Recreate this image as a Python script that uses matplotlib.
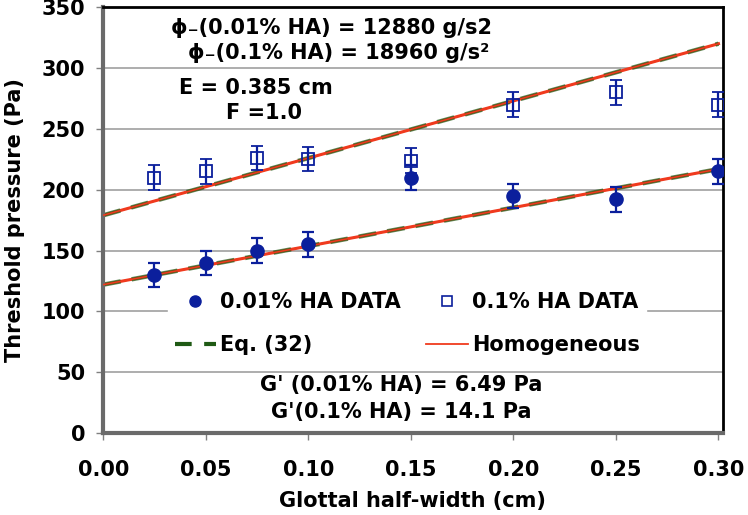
import numpy as np
import matplotlib.pyplot as plt
from matplotlib.lines import Line2D

# measured threshold pressures
half_width = [0.025, 0.05, 0.075, 0.10, 0.15, 0.20, 0.25, 0.30]
p_001 = [130, 140, 150, 155, 210, 195, 192, 215]
p_01 = [210, 215, 226, 225, 224, 270, 280, 270]
err_001 = [10, 10, 10, 10, 10, 10, 10, 10]
err_01 = [10, 10, 10, 10, 10, 10, 10, 10]

# model lines (end points at x = 0 and x = 0.30)
line_x = [0.0, 0.30]
model_001 = [122, 217]
model_01 = [179, 320]

navy = "#0b1f9c"
green = "#1f5a14"
red = "#f03a1e"

plt.rcParams['font.family'] = ['DejaVu Sans']
plt.rcParams['font.weight'] = 'bold'

fig = plt.figure(figsize=(7.48, 5.15), dpi=100)
ax = fig.add_axes([0.138, 0.159, 0.828, 0.827])

ax.yaxis.grid(True, color="#a0a0a0", lw=1.2, zorder=0)
ax.set_axisbelow(True)

for model in (model_01, model_001):
    ax.plot(line_x, model, color=red, lw=2.2, zorder=2)
    ax.plot(line_x, model, color=green, ls=(0, (4, 2.5)), lw=3.2, alpha=0.7, zorder=2)
    ax.plot(line_x, model, color=red, lw=1.1, zorder=3)

ax.errorbar(half_width, p_001, yerr=err_001, fmt="o", color=navy, ms=9.5,
            elinewidth=1.6, capsize=4, capthick=1.6, zorder=4)
ax.errorbar(half_width, p_01, yerr=err_01, fmt="s", color=navy, mfc="none", ms=8.5,
            mew=1.3, elinewidth=1.6, capsize=4, capthick=1.6, zorder=4)

ax.set_xlim(0, 0.302)
ax.set_ylim(0, 350)
ax.set_xticks(np.arange(0, 0.301, 0.05))
ax.set_xticklabels(["%.2f" % v for v in np.arange(0, 0.301, 0.05)])
ax.set_yticks(np.arange(0, 351, 50))
ax.tick_params(labelsize=15, labelcolor="black", color="#808080", length=5, width=1,
               direction="out")
ax.tick_params(axis="x", pad=14)
ax.tick_params(axis="y", pad=8)
for lab in ax.get_xticklabels() + ax.get_yticklabels():
    lab.set_fontweight("bold")

ax.spines["left"].set_color("#6a6a6a")
ax.spines["left"].set_linewidth(3)
ax.spines["bottom"].set_color("#6a6a6a")
ax.spines["bottom"].set_linewidth(3)
ax.spines["top"].set_color("black")
ax.spines["top"].set_linewidth(2)
ax.spines["right"].set_color("black")
ax.spines["right"].set_linewidth(2)

ax.set_xlabel("Glottal half-width (cm)", fontsize=15, fontweight="bold", labelpad=8)
ax.set_ylabel("Threshold pressure (Pa)", fontsize=15, fontweight="bold", labelpad=12)

handles = [
    Line2D([], [], ls="none", marker="o", color=navy, ms=8),
    Line2D([], [], color=green, ls=(0, (4, 3)), lw=3),
    Line2D([], [], ls="none", marker="s", color=navy, mfc="none", ms=7, mew=1.2),
    Line2D([], [], color=red, lw=1.3),
]
leg = ax.legend(handles, ["0.01% HA DATA", "Eq. (32)", "0.1% HA DATA", "Homogeneous"],
                ncol=2, loc="upper left", bbox_to_anchor=(0.105, 0.345),
                frameon=True, fancybox=False, edgecolor="white", framealpha=1,
                prop={"size": 15, "weight": "bold"}, handlelength=2.0,
                handletextpad=0.2, columnspacing=1.2, labelspacing=1.1,
                borderaxespad=0, borderpad=0.3)
leg.set_zorder(5)

txt = dict(fontsize=15, fontweight="bold", ha="center", va="center")
ax.text(0.368, 0.951, "ϕ₋(0.01% HA) = 12880 g/s2", transform=ax.transAxes, **txt)
ax.text(0.380, 0.892, "ϕ₋(0.1% HA) = 18960 g/s²", transform=ax.transAxes, **txt)
ax.text(0.247, 0.810, "E = 0.385 cm", transform=ax.transAxes, **txt)
ax.text(0.260, 0.751, "F =1.0", transform=ax.transAxes, **txt)
ax.text(0.481, 0.113, "G' (0.01% HA) = 6.49 Pa", transform=ax.transAxes, **txt)
ax.text(0.481, 0.049, "G'(0.1% HA) = 14.1 Pa", transform=ax.transAxes, **txt)

fig.savefig("out.png", dpi=100)
